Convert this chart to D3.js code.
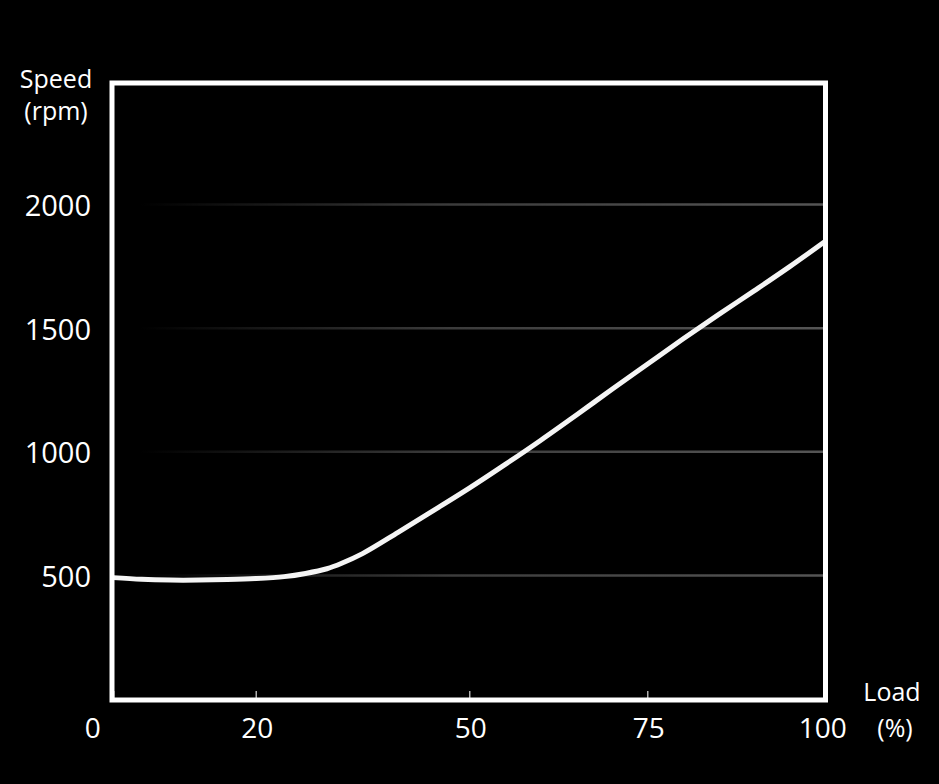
<!DOCTYPE html>
<html>
<head>
<meta charset="utf-8">
<script src="https://cdn.jsdelivr.net/npm/d3@7"></script>
<style>
  html, body { margin: 0; padding: 0; background: #000; }
  svg { display: block; }
  text { font-family: "Open Sans", sans-serif; fill: #fff; }
</style>
</head>
<body>
<div id="chart"></div>
<script>
var W = 939, H = 784;

// load (%) vs speed (rpm)
var load  = [0, 4, 8, 12, 16, 20, 24, 27, 30, 32, 35, 40, 45, 50, 55, 60, 65, 70, 75, 80, 85, 90, 95, 100];
var speed = [491, 484, 481, 481, 483, 487, 495, 508, 527, 548, 588, 674, 763, 853, 948, 1046, 1148, 1252, 1354, 1456, 1555, 1651, 1749, 1852];

var xTicks = [0, 20, 50, 75, 100];
var yTicks = [500, 1000, 1500, 2000];

var points = load.map(function(d, i){ return {load: d, speed: speed[i]}; });

var xScale = d3.scaleLinear().domain([0, 100]).range([113.3, 825.3]);
var yScale = d3.scaleLinear().domain([0, 2500]).range([699, 81]);

var svg = d3.select("#chart").append("svg")
    .attr("width", W)
    .attr("height", H);

svg.append("rect").attr("width", W).attr("height", H).attr("fill", "#000");

// fading grid lines
var defs = svg.append("defs");
var grad = defs.append("linearGradient")
    .attr("id", "gridFade")
    .attr("gradientUnits", "userSpaceOnUse")
    .attr("x1", 140).attr("x2", 825).attr("y1", 0).attr("y2", 0);
grad.append("stop").attr("offset", "0").attr("stop-color", "#555").attr("stop-opacity", 0);
grad.append("stop").attr("offset", "0.45").attr("stop-color", "#555").attr("stop-opacity", 0.7);
grad.append("stop").attr("offset", "1").attr("stop-color", "#555").attr("stop-opacity", 1);

svg.append("g").selectAll("line")
  .data(yTicks)
  .enter().append("line")
    .attr("x1", 115)
    .attr("x2", 823)
    .attr("y1", function(d){ return yScale(d); })
    .attr("y2", function(d){ return yScale(d); })
    .attr("stroke", "url(#gridFade)")
    .attr("stroke-width", 2.5);

// curve
var line = d3.line()
    .x(function(d){ return xScale(d.load); })
    .y(function(d){ return yScale(d.speed); })
    .curve(d3.curveCatmullRom.alpha(0.5));

svg.append("path")
    .datum(points)
    .attr("d", line)
    .attr("fill", "none")
    .attr("stroke", "#f5f5f5")
    .attr("stroke-width", 5);

// x axis
var xAxis = d3.axisBottom(xScale)
    .tickValues(xTicks)
    .tickSize(-7)
    .tickPadding(20);

var gx = svg.append("g")
    .attr("transform", "translate(0," + 698 + ")")
    .call(xAxis);
gx.select(".domain").remove();
gx.selectAll(".tick line").attr("stroke", "#ddd").attr("stroke-width", 1.2);
gx.selectAll(".tick text")
    .attr("font-size", 28)
    .attr("fill", "#fff")
    .attr("font-family", "Open Sans, sans-serif")
    .attr("dx", function(d){ return d === 0 ? -21 : (d === 100 ? -3 : 1); });

// y axis
var yAxis = d3.axisLeft(yScale)
    .tickValues(yTicks)
    .tickFormat(d3.format("d"))
    .tickSize(0)
    .tickPadding(21);

var gy = svg.append("g")
    .attr("transform", "translate(112,0)")
    .call(yAxis);
gy.select(".domain").remove();
gy.selectAll(".tick text")
    .attr("font-size", 29)
    .attr("fill", "#fff")
    .attr("font-family", "Open Sans, sans-serif")
    .attr("dy", "0.38em");

// frame
svg.append("rect")
    .attr("x", 112)
    .attr("y", 83)
    .attr("width", 713.5)
    .attr("height", 617)
    .attr("fill", "none")
    .attr("stroke", "#fff")
    .attr("stroke-width", 5);

// axis titles
svg.append("text").attr("x", 56).attr("y", 88).attr("text-anchor", "middle")
    .attr("font-size", 25).text("Speed");
svg.append("text").attr("x", 56).attr("y", 120).attr("text-anchor", "middle")
    .attr("font-size", 25).text("(rpm)");
svg.append("text").attr("x", 892).attr("y", 701).attr("text-anchor", "middle")
    .attr("font-size", 25).text("Load");
svg.append("text").attr("x", 895).attr("y", 737).attr("text-anchor", "middle")
    .attr("font-size", 25).text("(%)");
</script>
</body>
</html>
